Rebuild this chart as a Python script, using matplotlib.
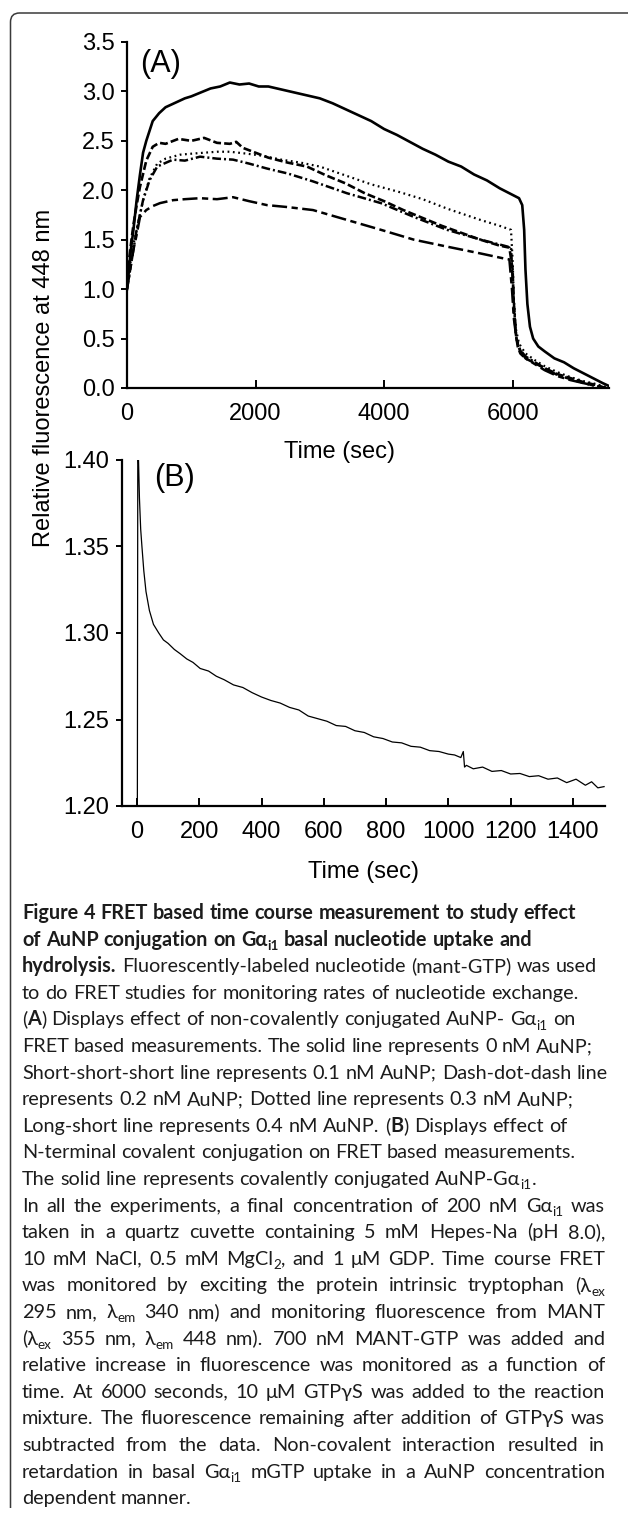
import numpy as np
import matplotlib.pyplot as plt
from matplotlib.path import Path
from matplotlib.patches import PathPatch

plt.rcParams['font.family'] = ['Liberation Sans', 'DejaVu Sans']

# ---- panel A: relative fluorescence vs time, five AuNP concentrations ----
t_0 = [0, 30, 60, 100, 150, 200, 250, 300, 400, 500, 600, 700, 800, 900, 1000,
       1150, 1300, 1450, 1600, 1750, 1900, 2050, 2200, 2400, 2600, 2800, 3000,
       3200, 3400, 3600, 3800, 4000, 4200, 4400, 4600, 4800, 5000, 5200, 5400,
       5600, 5800, 5950, 6100, 6150, 6180, 6200, 6230, 6270, 6320, 6400, 6500,
       6650, 6800, 6950, 7100, 7250, 7400, 7500]
v_0 = [1.0, 1.2, 1.4, 1.6, 1.9, 2.15, 2.38, 2.5, 2.7, 2.78, 2.84, 2.87, 2.9,
       2.93, 2.95, 2.99, 3.03, 3.05, 3.09, 3.07, 3.08, 3.05, 3.05, 3.02, 2.99,
       2.96, 2.93, 2.88, 2.82, 2.76, 2.70, 2.62, 2.56, 2.49, 2.42, 2.36, 2.29,
       2.24, 2.16, 2.10, 2.02, 1.97, 1.92, 1.85, 1.6, 1.2, 0.85, 0.62, 0.5,
       0.42, 0.37, 0.3, 0.26, 0.2, 0.15, 0.1, 0.05, 0.02]

t_01 = [0, 50, 100, 150, 200, 300, 400, 500, 600, 800, 1000, 1200, 1400, 1600,
        1700, 1800, 2000, 2200, 2500, 2800, 3100, 3400, 3700, 4000, 4300, 4600,
        4900, 5200, 5500, 5800, 5950, 6000, 6020, 6050, 6080, 6120, 6200, 6350,
        6500, 6700, 6900, 7100, 7300, 7450]
v_01 = [1.1, 1.4, 1.65, 1.85, 2.03, 2.3, 2.44, 2.48, 2.47, 2.52, 2.50, 2.53,
        2.48, 2.47, 2.49, 2.43, 2.38, 2.33, 2.28, 2.24, 2.15, 2.07, 1.97, 1.89,
        1.80, 1.72, 1.64, 1.57, 1.50, 1.44, 1.42, 1.2, 0.8, 0.55, 0.42, 0.35,
        0.3, 0.25, 0.2, 0.14, 0.1, 0.06, 0.03, 0.0]

t_02 = [0, 50, 100, 150, 250, 350, 470, 716, 900, 1136, 1400, 1650, 1900, 2178,
        2500, 2894, 3423, 3952, 4466, 4980, 5508, 5866, 5975, 6000, 6030, 6060,
        6100, 6200, 6350, 6500, 6700, 6900, 7100, 7300, 7450]
v_02 = [1.0, 1.2, 1.4, 1.6, 1.9, 2.1, 2.24, 2.31, 2.3, 2.34, 2.32, 2.31, 2.27,
        2.22, 2.17, 2.09, 1.97, 1.87, 1.73, 1.60, 1.50, 1.44, 1.42, 1.1, 0.75,
        0.5, 0.4, 0.32, 0.26, 0.2, 0.13, 0.09, 0.05, 0.02, 0.0]

t_03 = [0, 50, 100, 150, 250, 350, 470, 600, 825, 1000, 1200, 1400, 1600, 1870,
        2100, 2400, 2700, 3000, 3400, 3800, 4250, 4600, 5000, 5500, 5800, 5975,
        6000, 6020, 6050, 6100, 6200, 6350, 6500, 6700, 6900, 7100, 7300, 7450]
v_03 = [1.05, 1.25, 1.45, 1.6, 1.9, 2.12, 2.27, 2.32, 2.36, 2.37, 2.38, 2.39,
        2.39, 2.37, 2.35, 2.31, 2.28, 2.24, 2.15, 2.06, 1.98, 1.91, 1.81, 1.70,
        1.64, 1.60, 1.3, 0.9, 0.6, 0.45, 0.35, 0.28, 0.22, 0.16, 0.11, 0.07,
        0.04, 0.01]

t_04 = [0, 50, 100, 150, 202, 300, 400, 513, 716, 900, 1136, 1400, 1650, 1900,
        2178, 2500, 2894, 3423, 3952, 4466, 4980, 5508, 5866, 5950, 5990, 6020,
        6060, 6120, 6200, 6350, 6500, 6700, 6900, 7100, 7300, 7450]
v_04 = [1.0, 1.2, 1.4, 1.55, 1.73, 1.8, 1.84, 1.87, 1.90, 1.91, 1.92, 1.91,
        1.93, 1.89, 1.85, 1.83, 1.80, 1.70, 1.60, 1.50, 1.43, 1.36, 1.31, 1.30,
        1.0, 0.7, 0.5, 0.38, 0.3, 0.24, 0.18, 0.12, 0.08, 0.05, 0.02, 0.0]

# ---- panel B: covalently conjugated AuNP-Gai1 ----
t_B = [0, 3, 5, 8, 12, 16, 22, 29, 40, 53, 70, 85, 100, 120, 139, 160, 180, 203,
       230, 255, 280, 310, 340, 370, 400, 430, 460, 490, 520, 550, 580, 610, 640,
       670, 700, 730, 760, 790, 820, 850, 880, 910, 940, 970, 1000, 1020, 1040,
       1048, 1052, 1058, 1080, 1110, 1140, 1170, 1200, 1230, 1260, 1290, 1320,
       1350, 1380, 1410, 1440, 1460, 1480, 1500]
v_B = [1.00, 1.45, 1.400, 1.378, 1.360, 1.350, 1.336, 1.324, 1.313, 1.305,
       1.300, 1.296, 1.2940, 1.2905, 1.2880, 1.2850, 1.2830, 1.2795, 1.2780,
       1.2750, 1.2730, 1.2700, 1.2685, 1.2655, 1.2630, 1.2610, 1.2595, 1.2570,
       1.2555, 1.2520, 1.2505, 1.2490, 1.2465, 1.2460, 1.2435, 1.2425, 1.2400,
       1.2390, 1.2370, 1.2365, 1.2345, 1.2340, 1.2320, 1.2315, 1.2300, 1.2295,
       1.2280, 1.2315, 1.2225, 1.2235, 1.2215, 1.2225, 1.2200, 1.2205, 1.2185,
       1.2188, 1.2170, 1.2175, 1.2155, 1.2162, 1.2135, 1.2155, 1.2120, 1.2140,
       1.2105, 1.2112]

yticksA = [0.0, 0.5, 1.0, 1.5, 2.0, 2.5, 3.0, 3.5]
xticksA = [0, 2000, 4000, 6000]
yticksB = [1.20, 1.25, 1.30, 1.35, 1.40]
xticksB = [0, 200, 400, 600, 800, 1000, 1200, 1400]

caption = [
    [("Figure 4 FRET based time course measurement to study effect", 'b')],
    [("of AuNP conjugation on Gα", 'b'), ("i1", 'bs'), (" basal nucleotide uptake and", 'b')],
    [("hydrolysis.", 'b'), (" Fluorescently-labeled nucleotide (mant-GTP) was used", 'n')],
    [("to do FRET studies for monitoring rates of nucleotide exchange.", 'n')],
    [("(", 'n'), ("A", 'b'), (") Displays effect of non-covalently conjugated AuNP- Gα", 'n'),
     ("i1", 's'), (" on", 'n')],
    [("FRET based measurements. The solid line represents 0 nM AuNP;", 'n')],
    [("Short-short-short line represents 0.1 nM AuNP; Dash-dot-dash line", 'n')],
    [("represents 0.2 nM AuNP; Dotted line represents 0.3 nM AuNP;", 'n')],
    [("Long-short line represents 0.4 nM AuNP. (", 'n'), ("B", 'b'), (") Displays effect of", 'n')],
    [("N-terminal covalent conjugation on FRET based measurements.", 'n')],
    [("The solid line represents covalently conjugated AuNP-Gα", 'n'), ("i1", 's'), (".", 'n')],
    [("In all the experiments, a final concentration of 200 nM Gα", 'n'), ("i1", 's'), (" was", 'n')],
    [("taken in a quartz cuvette containing 5 mM Hepes-Na (pH 8.0),", 'n')],
    [("10 mM NaCl, 0.5 mM MgCl", 'n'), ("2", 's'), (", and 1 μM GDP. Time course FRET", 'n')],
    [("was monitored by exciting the protein intrinsic tryptophan (λ", 'n'), ("ex", 's')],
    [("295 nm, λ", 'n'), ("em", 's'), (" 340 nm) and monitoring fluorescence from MANT", 'n')],
    [("(λ", 'n'), ("ex", 's'), (" 355 nm, λ", 'n'), ("em", 's'), (" 448 nm). 700 nM MANT-GTP was added and", 'n')],
    [("relative increase in fluorescence was monitored as a function of", 'n')],
    [("time. At 6000 seconds, 10 μM GTPγS was added to the reaction", 'n')],
    [("mixture. The fluorescence remaining after addition of GTPγS was", 'n')],
    [("subtracted from the data. Non-covalent interaction resulted in", 'n')],
    [("retardation in basal Gα", 'n'), ("i1", 's'), (" mGTP uptake in a AuNP concentration", 'n')],
    [("dependent manner.", 'n')],
]
# lines of the second paragraph are set flush to the right margin
justified = set(range(11, 22))

W, H = 628, 1513
fig = plt.figure(figsize=(W / 100, H / 100), dpi=100)


def rect(l, t, r, b):
    return [l / W, 1 - b / H, (r - l) / W, (b - t) / H]


def style_axes(ax, top):
    for s in ['top', 'right']:
        ax.spines[s].set_visible(False)
    for s in ['left', 'bottom']:
        ax.spines[s].set_linewidth(1.6)
    ax.tick_params(axis='x', direction='in', length=6, width=1.4, pad=11, labelsize=17)
    ax.tick_params(axis='y', direction='out', length=4, width=1.4, pad=5, labelsize=17)
    # the top y tick also pokes into the plot
    ax.set_yticks([top], minor=True)
    ax.tick_params(axis='y', which='minor', direction='in', length=5, width=1.4)


axA = fig.add_axes(rect(127, 42, 609, 388))
axA.plot(t_0, v_0, color='black', lw=1.9, ls='-')
axA.plot(t_01, v_01, color='black', lw=1.9, ls=(0, (3, 1.2)))
axA.plot(t_02, v_02, color='black', lw=1.8, ls=(0, (3.5, 1.2, 0.8, 1.2)))
axA.plot(t_03, v_03, color='black', lw=1.6, ls=(0, (0.8, 1.6)))
axA.plot(t_04, v_04, color='black', lw=1.8, ls=(0, (6, 1.8, 2.5, 1.8)))
axA.set_xlim(0, 7500)
axA.set_ylim(0, 3.5)
axA.set_yticks(yticksA)
axA.set_yticklabels(['%.1f' % v for v in yticksA])
axA.set_xticks(xticksA)
style_axes(axA, yticksA[-1])
axA.patch.set_visible(False)
axA.set_xlabel('Time (sec)', fontsize=17, va='center')
axA.xaxis.set_label_coords((340 - 127) / 482, -(452 - 388) / 346)
axA.text(0.07, 0.935, '(A)', transform=axA.transAxes, fontsize=22, va='center', ha='center')

axB = fig.add_axes(rect(122, 460, 605, 806))
axB.plot(t_B, v_B, color='black', lw=0.9)
axB.set_xlim(-48, 1503)
axB.set_ylim(1.20, 1.40)
axB.set_yticks(yticksB)
axB.set_yticklabels(['%.2f' % v for v in yticksB])
axB.set_xticks(xticksB)
style_axes(axB, yticksB[-1])
axB.patch.set_visible(False)
axB.set_xlabel('Time (sec)', fontsize=17, va='center')
axB.xaxis.set_label_coords((364 - 122) / 483, -(872 - 806) / 346)
axB.text((174 - 122) / 483, (806 - 478) / 346, '(B)', transform=axB.transAxes,
         fontsize=22, va='center', ha='center')

fig.text(44 / W, 1 - 378 / H, 'Relative fluorescence at 448 nm', rotation=90,
         fontsize=17, ha='center', va='center')

# frame: rounded top-left corner, top and left edges only
frame = Path([(10.5, 1508), (10.5, 22), (10.5, 13), (19.5, 13), (628, 13)],
             [Path.MOVETO, Path.LINETO, Path.CURVE3, Path.CURVE3, Path.LINETO])
frame = Path([(x / W, 1 - y / H) for x, y in frame.vertices], frame.codes)
fig.patches.append(PathPatch(frame, transform=fig.transFigure, fill=False,
                             edgecolor='#3a3a3a', lw=1.1))

# ---- caption ----
cap_font = ['Lato', 'DejaVu Sans']
renderer = fig.canvas.get_renderer()


def tokens(line):
    # split segments into words; None marks an inter-word space
    out = []
    for txt, st in line:
        for j, piece in enumerate(txt.split(' ')):
            if j > 0:
                out.append(None)
            if piece:
                out.append((piece, st))
    return out


def make_text(x, yb, piece, st, fs_base):
    sub = 's' in st
    fs = fs_base * (0.68 if sub else 1.0)
    yy = yb + (fs_base * 0.3 if sub else 0)
    return fig.text(x / W, 1 - yy / H, piece, fontsize=fs, family=cap_font,
                    fontweight='bold' if 'b' in st else 'normal', color='#1c1c1c',
                    ha='left', va='baseline')


def widths(line, fs_base):
    ws = []
    for tk in tokens(line):
        if tk is None:
            ws.append(None)
        else:
            t = make_text(0, 0, tk[0], tk[1], fs_base)
            ws.append(t.get_window_extent(renderer).width)
            t.remove()
    return ws


def space_width(fs_base):
    a = make_text(0, 0, 'x x', 'n', fs_base)
    b = make_text(0, 0, 'xx', 'n', fs_base)
    w = a.get_window_extent(renderer).width - b.get_window_extent(renderer).width
    a.remove()
    b.remove()
    return w


def natural(line, fs_base):
    sw = space_width(fs_base)
    return sum(sw if w is None else w for w in widths(line, fs_base))


x0, x_right = 22, 605
fs0 = 12.0
cap_fs = min(fs0 * 583 / natural(caption[0], fs0),
             fs0 * 586 / natural(caption[6], fs0),
             fs0 * 581 / natural(caption[2], fs0))
sw = space_width(cap_fs)

y0, step = 919, 26.6
for i, line in enumerate(caption):
    toks = tokens(line)
    ws = widths(line, cap_fs)
    gap = sw
    if i in justified:
        n_sp = sum(1 for w in ws if w is None)
        total = sum(sw if w is None else w for w in ws)
        if n_sp:
            gap = sw + (x_right - x0 - total) / n_sp
    x = x0
    yb = y0 + i * step
    for tk, w in zip(toks, ws):
        if tk is None:
            x += gap
        else:
            make_text(x, yb, tk[0], tk[1], cap_fs)
            x += w

fig.savefig('out.png', dpi=100)
